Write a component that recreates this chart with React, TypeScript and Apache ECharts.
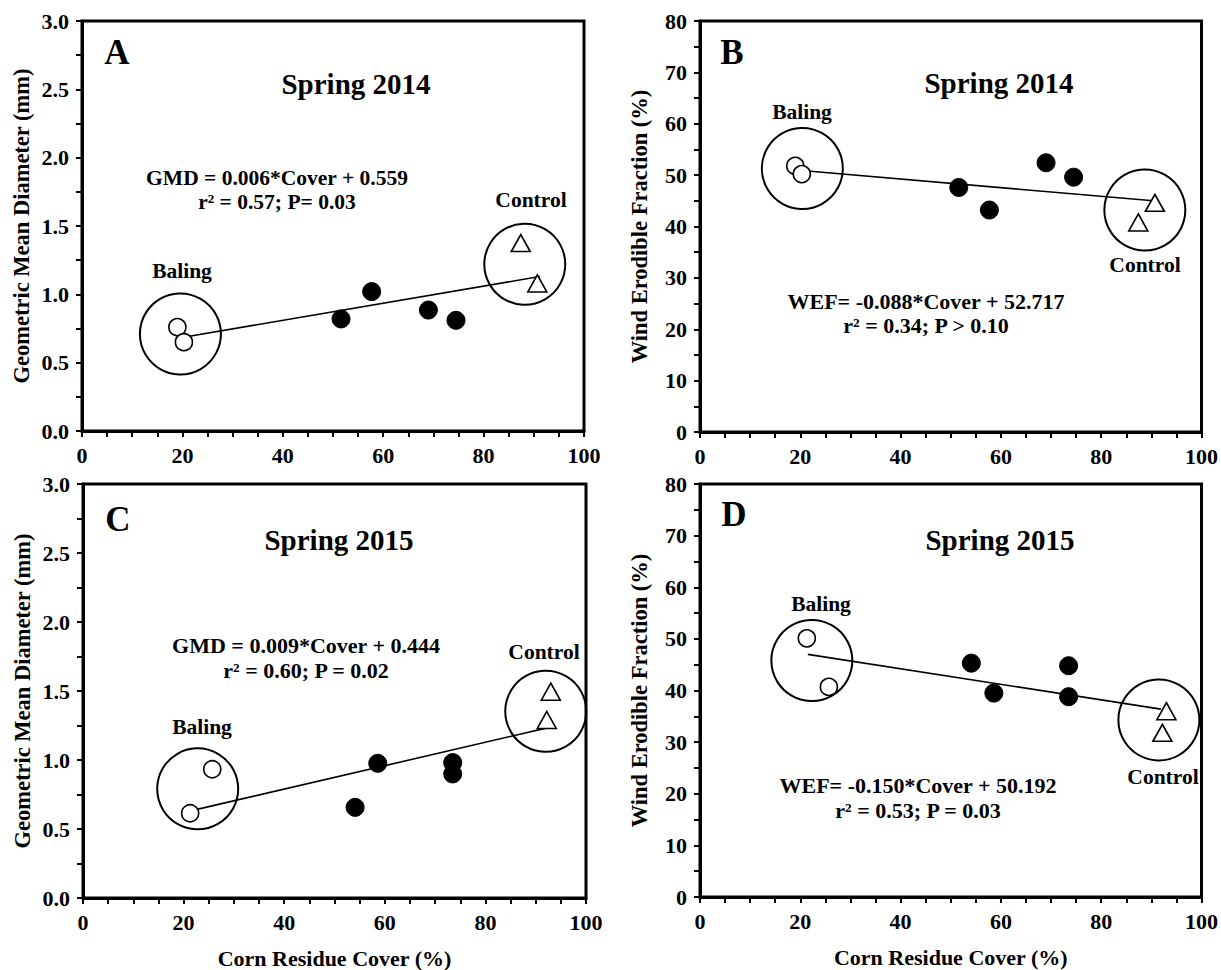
import React, { useEffect, useRef } from "react";
import * as echarts from "echarts";

// Corn residue cover (%) of each plot
const cover2014Baling = [19.0, 20.3];
const cover2014Residue = [51.6, 57.7, 69.0, 74.5];
const cover2014Control = [87.4, 90.7];
const cover2015Baling = [21.3, 25.7];
const cover2015Residue = [54.1, 58.6, 73.5, 73.5];
const cover2015Control = [92.2, 93.0];

// Geometric mean diameter (mm)
const gmd2014Baling = [0.76, 0.65];
const gmd2014Residue = [0.82, 1.02, 0.885, 0.81];
const gmd2014Control = [1.375, 1.08];
const gmd2015Baling = [0.614, 0.933];
const gmd2015Residue = [0.657, 0.976, 0.981, 0.899];
const gmd2015Control = [1.29, 1.495];

// Wind erodible fraction (%)
const wef2014Baling = [51.8, 50.2];
const wef2014Residue = [47.6, 43.2, 52.4, 49.6];
const wef2014Control = [40.8, 44.6];
const wef2015Baling = [50.1, 40.7];
const wef2015Residue = [45.3, 39.5, 44.8, 38.8];
const wef2015Control = [31.8, 36.0];

// Regression line end points: [cover, value]
const fitA = [[20.8, 0.69], [91.2, 1.13]];
const fitB = [[20.3, 50.9], [90.4, 45.0]];
const fitC = [[21.6, 0.633], [92.3, 1.233]];
const fitD = [[21.5, 47.0], [91.9, 36.4]];

// Group outline centres: [cover, value] (Baling, Control)
const ringsA = [[19.6, 0.71], [88.2, 1.22]];
const ringsB = [[20.4, 51.3], [88.7, 43.2]];
const ringsC = [[22.8, 0.791], [92.0, 1.353]];
const ringsD = [[22.3, 45.8], [91.5, 34.3]];

const xTicks = [0, 20, 40, 60, 80, 100];
const gmdTicks = [0, 0.5, 1.0, 1.5, 2.0, 2.5, 3.0];
const wefTicks = [0, 10, 20, 30, 40, 50, 60, 70, 80];

const FONT = "'Liberation Serif', 'Times New Roman', serif";

const zip = (xs: number[], ys: number[]) => xs.map((x, i) => [x, ys[i]]);

export default function App() {
  const ref = useRef<HTMLDivElement>(null);
  useEffect(() => {
    document.body.style.margin = "0";
    if (!ref.current) return;
    const chart = echarts.init(ref.current, undefined, { renderer: "svg" });

    const grids = [
      { left: 82, top: 21, width: 502, height: 410 },
      { left: 700, top: 21, width: 502, height: 411 },
      { left: 83, top: 484, width: 503, height: 414 },
      { left: 700, top: 484, width: 504, height: 413 },
    ].map((g) => ({ ...g, show: true, borderColor: "#000", borderWidth: 3, backgroundColor: "transparent" }));

    const labelStyle = { color: "#000", fontFamily: FONT, fontWeight: "bold" as const, fontSize: 22 };
    const nameStyle = { color: "#000", fontFamily: FONT, fontWeight: "bold" as const, fontSize: 22.5 };

    const xAxis = [0, 1, 2, 3].map((i) => ({
      type: "value",
      gridIndex: i,
      min: 0,
      max: 100,
      interval: 5,
      name: i >= 2 ? "Corn Residue Cover (%)" : "",
      nameLocation: "middle",
      nameGap: 49,
      nameTextStyle: { ...nameStyle, fontSize: 22 },
      axisLine: { show: true, lineStyle: { color: "#000", width: 3 } },
      axisTick: { show: true, inside: false, length: 6, lineStyle: { color: "#000", width: 2 } },
      splitLine: { show: false },
      axisLabel: {
        ...labelStyle,
        margin: 13,
        formatter: (v: number) => (xTicks.includes(v) ? String(v) : ""),
      },
    }));

    const yAxis = [0, 1, 2, 3].map((i) => {
      const gmd = i % 2 === 0;
      return {
        type: "value",
        gridIndex: i,
        min: 0,
        max: gmd ? 3 : 80,
        interval: gmd ? 0.25 : 5,
        name: gmd ? "Geometric Mean Diameter (mm)" : "Wind Erodible Fraction (%)",
        nameLocation: "middle",
        nameGap: 49,
        nameTextStyle: nameStyle,
        axisLine: { show: true, lineStyle: { color: "#000", width: 3 } },
        axisTick: { show: true, inside: false, length: 6, lineStyle: { color: "#000", width: 2 } },
        splitLine: { show: false },
        axisLabel: {
          ...labelStyle,
          margin: 13,
          formatter: (v: number) => {
            if (gmd) {
              const hit = gmdTicks.find((t) => Math.abs(t - v) < 1e-9);
              return hit === undefined ? "" : hit.toFixed(1);
            }
            return wefTicks.includes(v) ? String(v) : "";
          },
        },
      };
    });

    const panels = [
      { bal: zip(cover2014Baling, gmd2014Baling), res: zip(cover2014Residue, gmd2014Residue), con: zip(cover2014Control, gmd2014Control), fit: fitA, rings: ringsA },
      { bal: zip(cover2014Baling, wef2014Baling), res: zip(cover2014Residue, wef2014Residue), con: zip(cover2014Control, wef2014Control), fit: fitB, rings: ringsB },
      { bal: zip(cover2015Baling, gmd2015Baling), res: zip(cover2015Residue, gmd2015Residue), con: zip(cover2015Control, gmd2015Control), fit: fitC, rings: ringsC },
      { bal: zip(cover2015Baling, wef2015Baling), res: zip(cover2015Residue, wef2015Residue), con: zip(cover2015Control, wef2015Control), fit: fitD, rings: ringsD },
    ];

    const series: any[] = [];
    panels.forEach((p, i) => {
      const ax = { xAxisIndex: i, yAxisIndex: i };
      series.push({
        type: "scatter", ...ax, data: p.rings, symbol: "circle", symbolSize: 81, silent: true,
        itemStyle: { color: "rgba(0,0,0,0)", borderColor: "#000", borderWidth: 2, opacity: 1 }, z: 1,
      });
      series.push({
        type: "line", ...ax, data: p.fit, showSymbol: false, symbol: "none",
        lineStyle: { color: "#000", width: 1.6, opacity: 1 }, z: 2,
      });
      series.push({
        type: "scatter", ...ax, data: p.bal, symbol: "circle", symbolSize: 17,
        itemStyle: { color: "#fff", borderColor: "#000", borderWidth: 1.6, opacity: 1 }, z: 3,
      });
      series.push({
        type: "scatter", ...ax, data: p.res, symbol: "circle", symbolSize: 18,
        itemStyle: { color: "#000", borderColor: "#000", borderWidth: 1, opacity: 1 }, z: 3,
      });
      series.push({
        type: "scatter", ...ax, data: p.con, symbol: "triangle", symbolSize: [19, 17],
        itemStyle: { color: "#fff", borderColor: "#000", borderWidth: 1.6, opacity: 1 }, z: 3,
      });
    });

    const txt = (text: string, x: number, y: number, size: number, lineHeight?: number) => ({
      type: "text",
      x,
      y,
      z: 10,
      style: {
        text,
        align: "center",
        verticalAlign: "middle",
        fontSize: size,
        lineHeight: lineHeight ?? size,
        fontWeight: "bold",
        fontFamily: FONT,
        fill: "#000",
      },
    });

    const graphic = [
      txt("A", 117, 52, 35),
      txt("Spring 2014", 356, 84, 29),
      txt("GMD = 0.006*Cover + 0.559\nr² = 0.57; P= 0.03", 277, 190, 21.5, 24),
      txt("Control", 531, 200, 21.5),
      txt("Baling", 182, 271, 21.5),

      txt("B", 732, 52, 35),
      txt("Spring 2014", 999, 83, 29),
      txt("Baling", 802, 112, 21.5),
      txt("Control", 1145, 265, 21.5),
      txt("WEF= -0.088*Cover + 52.717\nr² = 0.34; P > 0.10", 926, 313, 22, 24),

      txt("C", 118, 519, 35),
      txt("Spring 2015", 339, 540, 29),
      txt("GMD = 0.009*Cover + 0.444\nr² = 0.60; P = 0.02", 306, 657.5, 22, 25),
      txt("Control", 544, 652, 21.5),
      txt("Baling", 202, 727, 21.5),

      txt("D", 734, 514, 35),
      txt("Spring 2015", 1000, 540, 29),
      txt("Baling", 821, 604, 21.5),
      txt("Control", 1163, 777, 21.5),
      txt("WEF= -0.150*Cover + 50.192\nr² = 0.53; P = 0.03", 918, 797.5, 22, 25),
    ];

    chart.setOption({
      animation: false,
      backgroundColor: "#fff",
      textStyle: { fontFamily: FONT },
      grid: grids,
      xAxis,
      yAxis,
      series,
      graphic,
    });
    return () => chart.dispose();
  }, []);

  return <div ref={ref} style={{ width: 1221, height: 970 }} />;
}
